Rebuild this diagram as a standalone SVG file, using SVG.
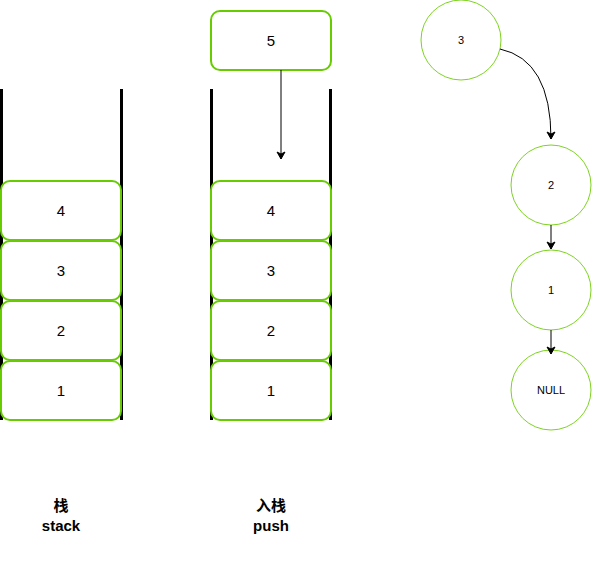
<svg xmlns="http://www.w3.org/2000/svg" width="592" height="561" viewBox="0 0 592 561">
<style>
.box{fill:#fff;stroke:#66CC00;stroke-width:2}
.circ{fill:#fff;stroke:#7ED321;stroke-width:1}
.wall{stroke:#000;stroke-width:3}
.t{font-family:"Liberation Sans",Arial,sans-serif;font-size:15px;fill:#000;text-anchor:middle;dominant-baseline:central}
.ts{font-family:"Liberation Sans",Arial,sans-serif;font-size:11px;fill:#000;text-anchor:middle;dominant-baseline:central}
.lb{font-family:"Liberation Sans","Noto Sans CJK SC",sans-serif;font-size:15px;font-weight:bold;fill:#000;text-anchor:middle}
.edge{fill:none;stroke:#000;stroke-width:1}
</style>
<defs>
<marker id="ah" markerWidth="10" markerHeight="10" refX="8" refY="5" orient="auto" markerUnits="userSpaceOnUse">
<path d="M1,1 L8,5 L1,9 L3,5 Z" fill="#000" stroke="#000"/>
</marker>
</defs>
<g id="stack-walls">
<line class="wall" x1="1.5" y1="89" x2="1.5" y2="420"/>
<line class="wall" x1="121.5" y1="89" x2="121.5" y2="420"/>
<line class="wall" x1="211.5" y1="89" x2="211.5" y2="420"/>
<line class="wall" x1="330.5" y1="89" x2="330.5" y2="420"/>
</g>
<g id="s1-4"><rect class="box" x="1" y="181" width="120" height="59" rx="9"/><text class="t" x="61" y="210">4</text></g>
<g id="s1-3"><rect class="box" x="1" y="241" width="120" height="59" rx="9"/><text class="t" x="61" y="270">3</text></g>
<g id="s1-2"><rect class="box" x="1" y="301" width="120" height="59" rx="9"/><text class="t" x="61" y="330">2</text></g>
<g id="s1-1"><rect class="box" x="1" y="361" width="120" height="59" rx="9"/><text class="t" x="61" y="390">1</text></g>
<g id="s2-5"><rect class="box" x="211" y="11" width="120" height="59" rx="9"/><text class="t" x="271" y="40">5</text></g>
<g id="s2-4"><rect class="box" x="211" y="181" width="120" height="59" rx="9"/><text class="t" x="271" y="210">4</text></g>
<g id="s2-3"><rect class="box" x="211" y="241" width="120" height="59" rx="9"/><text class="t" x="271" y="270">3</text></g>
<g id="s2-2"><rect class="box" x="211" y="301" width="120" height="59" rx="9"/><text class="t" x="271" y="330">2</text></g>
<g id="s2-1"><rect class="box" x="211" y="361" width="120" height="59" rx="9"/><text class="t" x="271" y="390">1</text></g>
<g id="n3"><circle class="circ" cx="461" cy="40" r="40"/><text class="ts" x="461" y="40">3</text></g>
<g id="n2"><circle class="circ" cx="551" cy="185" r="40"/><text class="ts" x="551" y="185">2</text></g>
<g id="n1"><circle class="circ" cx="551" cy="290" r="40"/><text class="ts" x="551" y="290">1</text></g>
<g id="nnull"><circle class="circ" cx="551" cy="390" r="40"/><text class="ts" x="551" y="390">NULL</text></g>
<g id="connectors">
<path class="edge" d="M281,70 L281,159" marker-end="url(#ah)"/>
<path class="edge" d="M500,49 Q551,60 551,139" marker-end="url(#ah)"/>
<path class="edge" d="M551,225 L551,249" marker-end="url(#ah)"/>
<path class="edge" d="M551,330 L551,354" marker-end="url(#ah)"/>
</g>
<g id="labels">
<text class="lb" x="61" y="511">栈</text>
<text class="lb" x="61" y="531">stack</text>
<text class="lb" x="271" y="511">入栈</text>
<text class="lb" x="271" y="531">push</text>
</g>
</svg>
